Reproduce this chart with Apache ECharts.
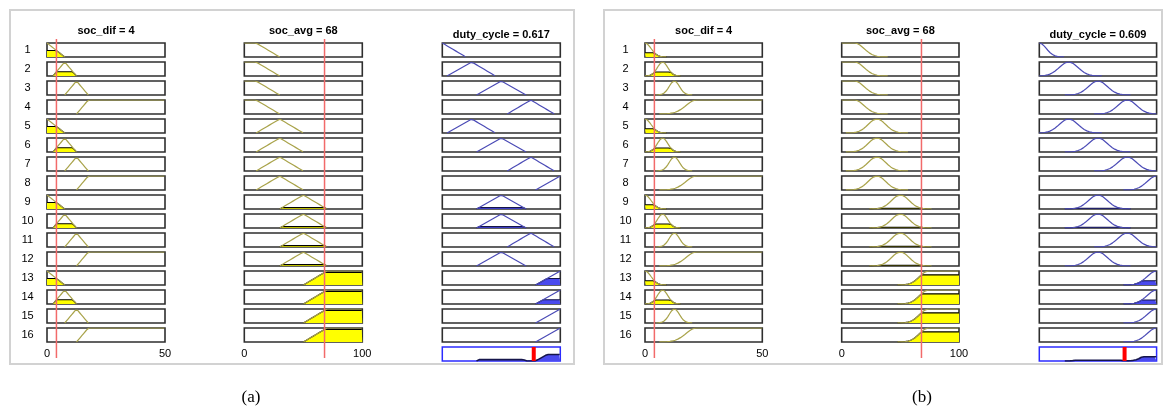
<!DOCTYPE html>
<html>
<head>
<meta charset="utf-8">
<script src="https://cdn.jsdelivr.net/npm/echarts@6/dist/echarts.min.js"></script>
<style>html,body{margin:0;padding:0;background:#fff}#c{width:1163px;height:413px}</style>
</head>
<body>
<div id="c"></div>
<script>
// ---------------- DATA ----------------
const ruleLabels = ['1','2','3','4','5','6','7','8','9','10','11','12','13','14','15','16'];
// which membership function each rule uses for every variable
const ruleDifMf  = [0,1,2,3, 0,1,2,3, 0,1,2,3, 0,1,2,3];
const ruleAvgMf  = [0,0,0,0, 1,1,1,1, 2,2,2,2, 3,3,3,3];
const ruleDutyMf = [0,1,2,3, 1,2,3,4, 2,2,3,2, 4,4,4,4];
const difRange  = [0, 50];
const avgRange  = [0, 100];
const dutyRange = [0, 1];
const panelNames   = ['(a)', '(b)'];
const inputSocDif  = [4, 4];
const inputSocAvg  = [68, 68];
const outputDuty   = [0.617, 0.609];   // defuzzified value shown in the title
const defuzzMarker = [0.775, 0.727];   // position of the red centroid bar on the duty axis
// panel (a): trapezoid / triangle MFs [a, b, c, d]
const aDifMf  = [[-10,-5,0,7.5],[2.5,7.5,7.5,12.5],[7.5,12.5,12.5,17.5],[12.5,17.5,60,70]];
const aAvgMf  = [[-20,-10,10,30],[10,30,30,50],[30,50,50,70],[50,70,110,120]];
const aDutyMf = [[-0.3,-0.2,0,0.2],[0.04,0.25,0.25,0.45],[0.29,0.5,0.5,0.71],[0.55,0.75,0.75,0.95],[0.79,1,1.2,1.3]];
// panel (b): gaussian MFs [centre, sigma, shoulder(-1 flat below centre, 1 flat above, 0 none)]
const bDifMf  = [[0,2.6,-1],[7.5,2.2,0],[12.5,2.2,0],[22,4.5,1]];
const bAvgMf  = [[11,8,-1],[30,7.5,0],[50,7.5,0],[74,7.5,1]];
const bDutyMf = [[0,0.06,-1],[0.25,0.08,0],[0.5,0.08,0],[0.75,0.08,0],[1,0.08,1]];

// ---------------- membership function types ----------------
function trapmf(p){ const [a,b,c,d]=p; return x => { if (x<=a||x>=d) return 0; if (x<b) return (x-a)/(b-a); if (x<=c) return 1; return (d-x)/(d-c); }; }
function gaussmf(p){ const [c,s,sh]=p; return x => { if (sh===-1 && x<c) return 1; if (sh===1 && x>c) return 1; return Math.exp(-(x-c)*(x-c)/(2*s*s)); }; }

// ---------------- layout / style ----------------
const FONT = '"Liberation Sans", Arial, sans-serif';
const layout = [
  {frame:[10,10,564,354], boxLeft:[47,244.3,442.3], boxW:118, caption:[251,398]},
  {frame:[604,10,558,354], boxLeft:[645,841.7,1039.3], boxW:117.3, caption:[922,398]}
];
const ROW_TOP=43, ROW_PITCH=19, ROW_H=14;
const OLIVE='#a9a34a', YELLOW='#ffff00', BLUE_LINE='#4b4bb6', BLUE_FILL='#4a4aee', BLUE_EDGE='#15154a';

const grids=[], xAxes=[], yAxes=[], series=[], graphic=[];
function addGrid(rect, xr, gridExtra, xExtra, yAxisOpt){
  const i=grids.length;
  grids.push(Object.assign({left:rect[0], top:rect[1], width:rect[2], height:rect[3], show:false, containLabel:false, outerBoundsMode:'none'}, gridExtra||{}));
  xAxes.push(Object.assign({type:'value', gridIndex:i, min:xr[0], max:xr[1], show:false}, xExtra||{}));
  yAxes.push(Object.assign({gridIndex:i}, yAxisOpt||{type:'value', min:0, max:1, show:false}));
  return i;
}
function line(gi, data, color, width, z, area){
  const s={type:'line', xAxisIndex:gi, yAxisIndex:gi, data, symbol:'none', showSymbol:false, silent:true,
    animation:false, lineStyle:{color, width}, z, clip:true};
  if (area) s.areaStyle={color:area, opacity:1};
  return s;
}
function xsOf(range){ const n=400, xs=[]; for(let k=0;k<=n;k++) xs.push(range[0]+(range[1]-range[0])*k/n); return xs; }
function trimmed(pts){ let f=-1,l=-1; pts.forEach((p,k)=>{ if(p[1]>0.002){ if(f<0) f=k; l=k; } }); if(f<0) return []; return pts.slice(Math.max(0,f-1), Math.min(pts.length,l+2)); }

const boxStyle = {show:true, borderColor:'#2e2e2e', borderWidth:1.6, backgroundColor:'#fff'};

[0,1].forEach(pi => {
  const L = layout[pi];
  const make = pi===0 ? trapmf : gaussmf;
  const difMf  = (pi===0?aDifMf:bDifMf).map(make);
  const avgMf  = (pi===0?aAvgMf:bAvgMf).map(make);
  const dutyMf = (pi===0?aDutyMf:bDutyMf).map(make);
  const vars = [
    {range:difRange,  mfs:difMf,  rule:ruleDifMf,  input:inputSocDif[pi], ticks:50},
    {range:avgRange,  mfs:avgMf,  rule:ruleAvgMf,  input:inputSocAvg[pi], ticks:100},
    {range:dutyRange, mfs:dutyMf, rule:ruleDutyMf}
  ];
  // frame
  graphic.push({type:'rect', shape:{x:L.frame[0], y:L.frame[1], width:L.frame[2], height:L.frame[3]},
    style:{fill:'none', stroke:'#d2d2d2', lineWidth:2}, z:-10, silent:true});
  graphic.push({type:'text', x:L.caption[0], y:L.caption[1], silent:true,
    style:{text:panelNames[pi], font:'17px "Liberation Serif", "Times New Roman", serif', fill:'#000', textAlign:'center', textVerticalAlign:'middle', align:'center', verticalAlign:'middle'}});
  // titles
  const titles = ['soc_dif = '+inputSocDif[pi], 'soc_avg = '+inputSocAvg[pi], 'duty_cycle = '+outputDuty[pi]];
  const titleY = [31, 31, 35];
  titles.forEach((t,c) => graphic.push({type:'text', x:L.boxLeft[c]+L.boxW/2, y:titleY[c], silent:true,
    style:{text:t, font:'bold 11px '+FONT, fill:'#000', textAlign:'center', textVerticalAlign:'middle', align:'center', verticalAlign:'middle'}}));
  // row labels
  addGrid([L.boxLeft[0], ROW_TOP+ROW_H/2-ROW_PITCH/2, L.boxW, ROW_PITCH*16], difRange, null, null,
    {type:'category', data:ruleLabels, inverse:true, show:true, axisLine:{show:false}, axisTick:{show:false}, splitLine:{show:false},
     axisLabel:{show:true, margin:19.5, align:'center', fontSize:11, fontFamily:FONT, color:'#000'}});

  const fire = ruleLabels.map((_,r) => Math.min(difMf[ruleDifMf[r]](inputSocDif[pi]), avgMf[ruleAvgMf[r]](inputSocAvg[pi])));

  for (let r=0;r<16;r++){
    for (let c=0;c<3;c++){
      const v = vars[c];
      const mf = v.mfs[v.rule[r]];
      const level = c<2 ? mf(v.input) : fire[r];
      const xExtra = (r===15 && c<2) ? {show:true, interval:v.ticks, axisLine:{show:false}, axisTick:{show:false}, splitLine:{show:false},
          axisLabel:{show:true, margin:6, fontSize:11, fontFamily:FONT, color:'#000', showMinLabel:true, showMaxLabel:true}} : null;
      const gi = addGrid([L.boxLeft[c], ROW_TOP+r*ROW_PITCH, L.boxW, ROW_H], v.range, boxStyle, xExtra);
      const xs = xsOf(v.range);
      if (level>0.001){
        const fillPts = trimmed(xs.map(x => [x, Math.min(mf(x), level)]));
        series.push(line(gi, fillPts, c<2?'#000':BLUE_EDGE, 1.1, 3, c<2?YELLOW:BLUE_FILL));
      }
      series.push(line(gi, trimmed(xs.map(x => [x, mf(x)])), c<2?OLIVE:BLUE_LINE, 1.2, 4));
    }
  }
  // aggregated output row
  const ga = addGrid([L.boxLeft[2], ROW_TOP+16*ROW_PITCH, L.boxW, ROW_H], dutyRange, {show:true, borderColor:'#2b2bff', borderWidth:1.5, backgroundColor:'#fff'});
  const aggPts = xsOf(dutyRange).map(x => [x, Math.max(...fire.map((f,r) => Math.min(f, dutyMf[ruleDutyMf[r]](x))))]);
  series.push(line(ga, trimmed(aggPts), BLUE_EDGE, 1.6, 3, BLUE_FILL));
  series.push(line(ga, [[defuzzMarker[pi],0],[defuzzMarker[pi],1]], '#ff0000', 4, 12));
  // red input lines
  [0,1].forEach(c => {
    const gi = addGrid([L.boxLeft[c], 39, L.boxW, 319], vars[c].range);
    series.push(line(gi, [[vars[c].input,0],[vars[c].input,1]], '#f26a6a', 1.5, 12));
  });
});

const chart = echarts.init(document.getElementById('c'), null, {renderer:'canvas'});
chart.setOption({animation:false, backgroundColor:'#fff', grid:grids, xAxis:xAxes, yAxis:yAxes, series, graphic});
</script>
</body>
</html>
